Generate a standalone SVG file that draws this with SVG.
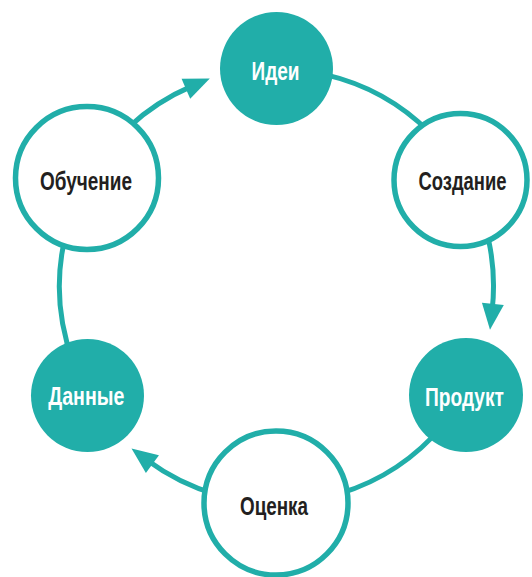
<svg xmlns="http://www.w3.org/2000/svg" width="532" height="577" viewBox="0 0 532 577">
  <style>
    .conn { fill: none; stroke: #21AEA9; stroke-width: 5; }
    .filled { fill: #21AEA9; }
    .ring { fill: #FFFFFF; stroke: #21AEA9; stroke-width: 5.5; }
    .lbl { font-family: "Liberation Sans Narrow", "Liberation Sans", Arial, sans-serif; font-weight: bold; font-size: 25px; text-anchor: middle; }
    .lw { fill: #FFFFFF; }
    .ld { fill: #231F20; }
  </style>
  <defs>
    <marker id="arrow" markerUnits="userSpaceOnUse" markerWidth="26" markerHeight="22" refX="6" refY="11" orient="auto" overflow="visible">
      <path d="M0,0 L26,11 L0,22 z" fill="#21AEA9"/>
    </marker>
  </defs>
  <rect width="532" height="577" fill="#FFFFFF"/>
  <g id="connectors">
    <path class="conn" d="M128.5,127.3 A217,217 0 0 1 191.4,86.4" marker-end="url(#arrow)"/>
    <path class="conn" d="M325.3,74.6 A217,217 0 0 1 429.9,132.6"/>
    <path class="conn" d="M488.8,240.9 A217,217 0 0 1 492.2,309.8" marker-end="url(#arrow)"/>
    <path class="conn" d="M442.7,425.5 A217,217 0 0 1 339.9,493.5"/>
    <path class="conn" d="M216.7,494.6 A217,217 0 0 1 147.6,460.5" marker-end="url(#arrow)"/>
    <path class="conn" d="M72.6,360.2 A217,217 0 0 1 66.9,229.8"/>
  </g>
  <g id="node-idei">
    <circle class="filled" cx="276.5" cy="68.5" r="56.5"/>
    <text class="lbl lw" x="275.5" y="79.5" textLength="48" lengthAdjust="spacingAndGlyphs">Идеи</text>
  </g>
  <g id="node-sozdanie">
    <circle class="ring" cx="460.5" cy="180" r="66.5"/>
    <text class="lbl ld" x="462.5" y="189.5" textLength="88" lengthAdjust="spacingAndGlyphs">Создание</text>
  </g>
  <g id="node-produkt">
    <circle class="filled" cx="466" cy="395" r="57"/>
    <text class="lbl lw" x="464.5" y="405.5" textLength="79" lengthAdjust="spacingAndGlyphs">Продукт</text>
  </g>
  <g id="node-otsenka">
    <circle class="ring" cx="276" cy="503" r="72"/>
    <text class="lbl ld" x="274" y="514.5" textLength="68" lengthAdjust="spacingAndGlyphs">Оценка</text>
  </g>
  <g id="node-dannye">
    <circle class="filled" cx="87.5" cy="395.5" r="56.5"/>
    <text class="lbl lw" x="86.3" y="404.5" textLength="76" lengthAdjust="spacingAndGlyphs">Данные</text>
  </g>
  <g id="node-obuchenie">
    <circle class="ring" cx="87" cy="178" r="71.5"/>
    <text class="lbl ld" x="86" y="189.5" textLength="92" lengthAdjust="spacingAndGlyphs">Обучение</text>
  </g>
</svg>
